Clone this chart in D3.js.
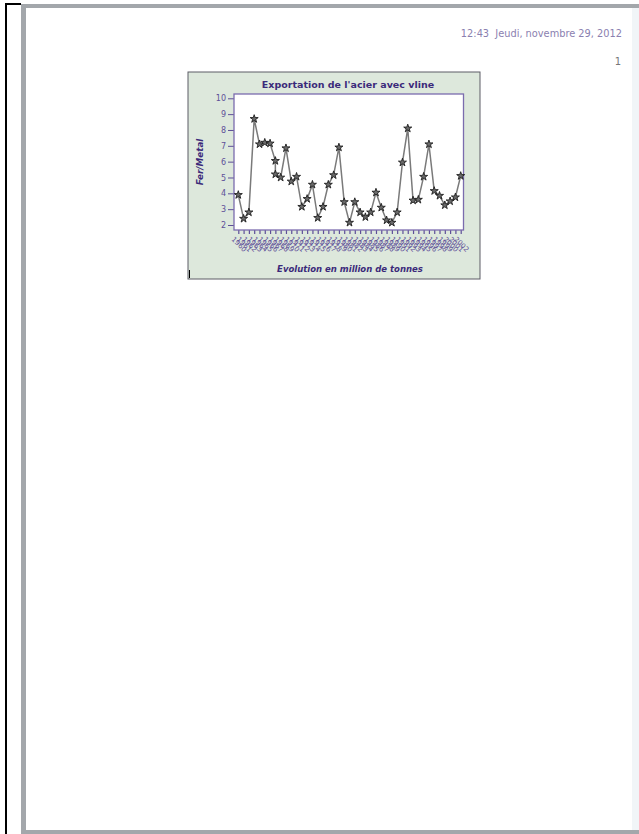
<!DOCTYPE html>
<html>
<head>
<meta charset="utf-8">
<script src="https://cdn.jsdelivr.net/npm/d3@7"></script>
<style>
  html, body { margin: 0; padding: 0; background: #fff; }
  svg { display: block; }
</style>
</head>
<body>
<div id="main-chart"></div>
<script>
// x position of each point (two readings share position 8)
var xPositions = [1, 2, 3, 4, 5, 6, 7, 8, 8, 9, 10, 11, 12, 13, 14, 15, 16, 17, 18, 19, 20, 21,
  22, 23, 24, 25, 26, 27, 28, 29, 30, 31, 32, 33, 34, 35, 36, 37, 38, 39, 40, 41, 42, 43];
var ferMetal = [3.9, 2.4, 2.8, 8.7, 7.1, 7.2, 7.15, 6.05, 5.2, 5.0, 6.85, 4.75, 5.05, 3.15, 3.65,
  4.55, 2.45, 3.15, 4.55, 5.15, 6.9, 3.45, 2.15, 3.45, 2.8, 2.5, 2.8, 4.05, 3.1, 2.3, 2.15, 2.8,
  5.95, 8.1, 3.55, 3.6, 5.05, 7.1, 4.15, 3.85, 3.25, 3.5, 3.75, 5.1];
var yTicks = [2, 3, 4, 5, 6, 7, 8, 9, 10];
var xTickLabels = d3.range(1960, 2003).map(String);

var titleText = "Exportation de l'acier avec vline";
var yLabelText = "Fer/Metal";
var xLabelText = "Evolution en million de tonnes";
var headerText = "12:43  Jeudi, novembre 29, 2012";
var pageNumber = "1";

var width = 639, height = 834;
var svg;

var purple = "#3b2a7a";
var tickPurple = "#5e4f98";

function setup() {
  svg = d3
    .select("#main-chart")
    .append("svg")
    .attr("width", width)
    .attr("height", height);
}

function page() {
  // print preview frame
  svg.append("rect")
    .attr("x", 21).attr("y", 4)
    .attr("width", width - 21).attr("height", height - 4)
    .attr("fill", "#a3a7ab");
  svg.append("rect")
    .attr("x", 26).attr("y", 8)
    .attr("width", 606).attr("height", 822)
    .attr("fill", "#fff");
  svg.append("rect")
    .attr("x", 632).attr("y", 8)
    .attr("width", 7).attr("height", 822)
    .attr("fill", "#f1f5f8");
  svg.append("rect")
    .attr("x", 5).attr("y", 3)
    .attr("width", 2).attr("height", height - 3)
    .attr("fill", "#000");
  svg.append("rect")
    .attr("x", 5).attr("y", 3)
    .attr("width", 16).attr("height", 2)
    .attr("fill", "#000");

  svg.append("text")
    .attr("x", 622).attr("y", 37)
    .attr("text-anchor", "end")
    .style("font-family", "DejaVu Sans")
    .style("font-size", "9.8px")
    .style("fill", "#8a80b0")
    .style("white-space", "pre")
    .text(headerText);

  svg.append("text")
    .attr("x", 621).attr("y", 65)
    .attr("text-anchor", "end")
    .style("font-family", "DejaVu Sans")
    .style("font-size", "10px")
    .style("fill", "#777")
    .text(pageNumber);
}

function chart() {
  var box = { x: 188, y: 72, w: 292, h: 207 };
  var plot = { left: 234, right: 463.5, top: 94, bottom: 230 };

  var g = svg.append("g").attr("class", "chart");

  g.append("rect")
    .attr("x", box.x).attr("y", box.y)
    .attr("width", box.w).attr("height", box.h)
    .attr("fill", "#dde8dc")
    .attr("stroke", "#5c5c66")
    .attr("stroke-width", 1);

  g.append("rect")
    .attr("x", plot.left).attr("y", plot.top)
    .attr("width", plot.right - plot.left).attr("height", plot.bottom - plot.top)
    .attr("fill", "#fff");

  var x = d3.scaleLinear().domain([1, 43]).range([238.3, 460.7]);
  var y = d3.scaleLinear().domain([2, 10]).range([225, 98.3]);

  // y axis
  var yAxis = d3.axisLeft(y)
    .tickValues(yTicks)
    .tickSize(6)
    .tickPadding(2);
  g.append("g")
    .attr("transform", "translate(" + plot.left + ",0)")
    .call(yAxis)
    .call(function(s) { s.select(".domain").remove(); })
    .call(function(s) {
      s.selectAll("line").attr("stroke", tickPurple);
      s.selectAll("text")
        .style("font-family", "DejaVu Sans")
        .style("font-size", "8px")
        .style("fill", tickPurple);
    });

  // x axis
  var xAxis = d3.axisBottom(x)
    .tickValues(d3.range(1, 44))
    .tickFormat(function(d) { return xTickLabels[d - 1]; })
    .tickSize(4)
    .tickPadding(2);
  g.append("g")
    .attr("transform", "translate(0," + plot.bottom + ")")
    .call(xAxis)
    .call(function(s) { s.select(".domain").remove(); })
    .call(function(s) {
      s.selectAll("line").attr("stroke", tickPurple).attr("stroke-width", 1.2);
      s.selectAll("text")
        .attr("text-anchor", "start")
        .attr("dy", "0.3em")
        .attr("transform", "translate(-2,4) rotate(45)")
        .style("font-family", "DejaVu Sans")
        .style("font-size", "7px")
        .style("fill", tickPurple);
    });

  g.append("rect")
    .attr("x", plot.left).attr("y", plot.top)
    .attr("width", plot.right - plot.left).attr("height", plot.bottom - plot.top)
    .attr("fill", "none")
    .attr("stroke", "#7b6cae")
    .attr("stroke-width", 1.3);

  var points = xPositions.map(function(d, i) {
    return { x: d, v: ferMetal[i] };
  });

  var line = d3.line()
    .x(function(d) { return x(d.x); })
    .y(function(d) { return y(d.v); });

  g.append("path")
    .datum(points)
    .attr("d", line)
    .attr("fill", "none")
    .attr("stroke", "#7a7a7a")
    .attr("stroke-width", 1.5);

  var star = d3.symbol().type(d3.symbolStar).size(20);
  g.append("g")
    .selectAll("path")
    .data(points)
    .enter()
    .append("path")
    .attr("d", star)
    .attr("transform", function(d) {
      return "translate(" + x(d.x) + "," + y(d.v) + ")";
    })
    .attr("fill", "#6a6a6a")
    .attr("stroke", "#1e1e1e")
    .attr("stroke-width", 0.9);

  // title and axis labels
  g.append("text")
    .attr("x", 348).attr("y", 88)
    .attr("text-anchor", "middle")
    .style("font-family", "DejaVu Sans")
    .style("font-weight", "bold")
    .style("font-size", "9.5px")
    .style("fill", purple)
    .text(titleText);

  g.append("text")
    .attr("transform", "translate(203,162) rotate(-90)")
    .attr("text-anchor", "middle")
    .style("font-family", "DejaVu Sans")
    .style("font-weight", "bold")
    .style("font-style", "italic")
    .style("font-size", "8.8px")
    .style("fill", purple)
    .text(yLabelText);

  g.append("text")
    .attr("x", 350).attr("y", 272)
    .attr("text-anchor", "middle")
    .style("font-family", "DejaVu Sans")
    .style("font-weight", "bold")
    .style("font-style", "italic")
    .style("font-size", "8.5px")
    .style("fill", purple)
    .text(xLabelText);

  // little cursor mark in the corner
  g.append("line")
    .attr("x1", 189.5).attr("x2", 189.5)
    .attr("y1", 270).attr("y2", 278)
    .attr("stroke", "#000")
    .attr("stroke-width", 1);
}

setup();
page();
chart();
</script>
</body>
</html>
